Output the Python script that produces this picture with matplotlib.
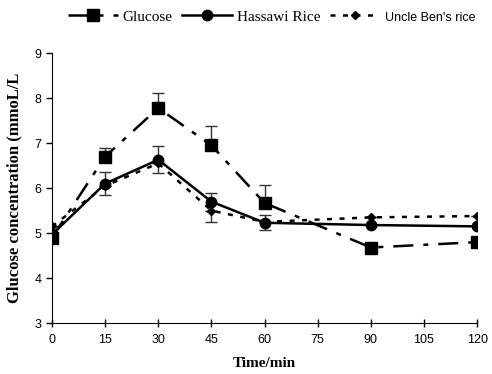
import matplotlib.pyplot as plt
import numpy as np

time = [0, 15, 30, 45, 60, 90, 120]

glucose = [4.9, 6.7, 7.78, 6.95, 5.67, 4.68, 4.8]
glucose_err = [0.0, 0.2, 0.33, 0.42, 0.4, 0.08, 0.0]

hassawi = [4.97, 6.1, 6.63, 5.7, 5.23, 5.18, 5.15]
hassawi_err = [0.0, 0.25, 0.3, 0.2, 0.17, 0.0, 0.0]

uncle_ben = [5.15, 6.05, 6.55, 5.5, 5.25, 5.35, 5.38]
uncle_ben_err = [0.0, 0.0, 0.0, 0.25, 0.0, 0.0, 0.0]

serif = 'Liberation Serif'
sans = 'Liberation Sans'

fig = plt.figure(figsize=(4.92, 3.74), dpi=100)
ax = fig.add_axes([0.1057, 0.136, 0.864, 0.722])

# glucose: upper error bars only
ax.errorbar(time, glucose, yerr=[np.zeros(len(glucose)), glucose_err],
            fmt='none', ecolor='#333333', elinewidth=1, capsize=4, capthick=1)
ax.errorbar(time, hassawi, yerr=hassawi_err,
            fmt='none', ecolor='#333333', elinewidth=1, capsize=4, capthick=1)
ax.errorbar(time, uncle_ben, yerr=[uncle_ben_err, np.zeros(len(uncle_ben))],
            fmt='none', ecolor='#333333', elinewidth=1, capsize=4, capthick=1)

ax.plot(time, glucose, color='black', linewidth=1.8, dashes=(8, 4, 2, 4),
        marker='s', markersize=8, label='Glucose', zorder=3)
ax.plot(time, hassawi, color='black', linewidth=1.8, linestyle='-',
        marker='o', markersize=7.5, label='Hassawi Rice', zorder=4)
ax.plot(time, uncle_ben, color='black', linewidth=1.8, dashes=(2, 3),
        marker='D', markersize=4.5, label="Uncle Ben's rice", zorder=5)

ax.set_xlim(0, 120)
ax.set_ylim(3, 9)
ax.set_xticks(np.arange(0, 121, 15))
ax.set_yticks(np.arange(3, 10, 1))
for s in ['top', 'right']:
    ax.spines[s].set_visible(False)
ax.tick_params(axis='x', direction='inout', length=6, width=1, pad=5)
ax.tick_params(axis='y', direction='out', length=4, width=1)
for lab in ax.get_xticklabels() + ax.get_yticklabels():
    lab.set_fontfamily(sans)
    lab.set_fontsize(9)

ax.set_xlabel('Time/min', fontfamily=serif, fontweight='bold', fontsize=11, labelpad=8)
ax.set_ylabel('Glucose concentration (mmoL/L', fontfamily=serif,
              fontweight='bold', fontsize=12, labelpad=9)

leg = fig.legend(loc='upper left', bbox_to_anchor=(0.11, 1.01), ncol=3,
                 frameon=False, handlelength=3.3, handletextpad=0.3,
                 columnspacing=0.6, prop={'family': serif, 'size': 11})
leg.get_texts()[2].set_fontfamily(sans)
leg.get_texts()[2].set_fontsize(9)

fig.savefig('out.png', dpi=100)
